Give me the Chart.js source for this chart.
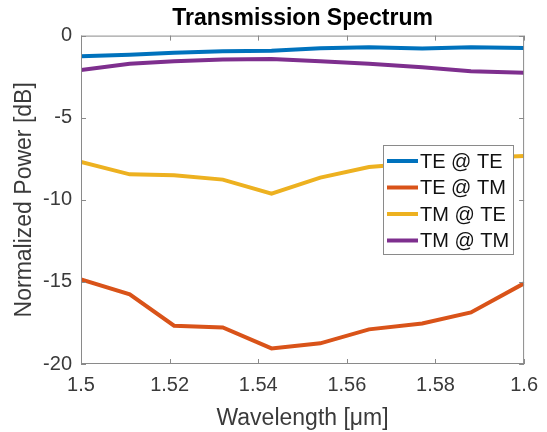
<!DOCTYPE html>
<html>
<head>
<meta charset="utf-8">
<script src="https://cdn.jsdelivr.net/npm/chart.js@4"></script>
<style>
  html, body { margin: 0; padding: 0; background: #fff; }
  #wrap { position: relative; width: 547px; height: 432px; }
</style>
</head>
<body>
<div id="wrap"><canvas id="chart"></canvas></div>
<script>
// wavelength samples (um)
const wavelengths = [1.5, 1.511, 1.521, 1.532, 1.543, 1.554, 1.565, 1.577, 1.588, 1.6];

// normalized power (dB)
const teAtTe = [-1.26, -1.17, -1.05, -0.95, -0.93, -0.77, -0.71, -0.79, -0.71, -0.75];
const teAtTm = [-14.85, -15.76, -17.67, -17.77, -19.05, -18.74, -17.89, -17.53, -16.86, -15.09];
const tmAtTe = [-7.70, -8.45, -8.51, -8.77, -9.62, -8.65, -8.0, -7.75, -7.45, -7.34];
const tmAtTm = [-2.09, -1.72, -1.56, -1.46, -1.42, -1.56, -1.72, -1.93, -2.17, -2.27];

const seriesLabels = ["TE @ TE", "TE @ TM", "TM @ TE", "TM @ TM"];
const seriesColors = ["#0072BD", "#D95319", "#EDB120", "#7E2F8E"];

const xTicks = [1.5, 1.52, 1.54, 1.56, 1.58, 1.6];
const yTicks = [-20, -15, -10, -5, 0];

const FONT = "'Liberation Sans', Arial, Helvetica, sans-serif";
const AXIS_COLOR = "#8a8a8a";
const TEXT_COLOR = "#3a3a3a";

const toPoints = (ys) => wavelengths.map((x, i) => ({ x: x, y: ys[i] }));

// box around the axes + inward tick marks, like MATLAB
const boxPlugin = {
  id: "box",
  afterDatasetsDraw(chart) {
    const { ctx, chartArea: a, scales } = chart;
    ctx.save();
    ctx.strokeStyle = AXIS_COLOR;
    ctx.lineWidth = 1;
    ctx.strokeRect(a.left + 0.5, a.top + 0.5, a.right - a.left - 1, a.bottom - a.top - 1);
    const len = 5;
    ctx.beginPath();
    xTicks.forEach((t) => {
      const px = Math.round(scales.x.getPixelForValue(t)) + 0.5;
      ctx.moveTo(px, a.bottom); ctx.lineTo(px, a.bottom - len);
      ctx.moveTo(px, a.top); ctx.lineTo(px, a.top + len);
    });
    yTicks.forEach((t) => {
      const py = Math.round(scales.y.getPixelForValue(t)) + 0.5;
      ctx.moveTo(a.left, py); ctx.lineTo(a.left + len, py);
      ctx.moveTo(a.right, py); ctx.lineTo(a.right - len, py);
    });
    ctx.stroke();
    ctx.restore();
  },
  afterDraw(chart) {
    // legend box placed inside the axes, like the figure
    const { ctx } = chart;
    const x0 = 383, y0 = 145, w = 130, h = 109, row = 26.5;
    ctx.save();
    ctx.fillStyle = "#fff";
    ctx.fillRect(x0, y0, w, h);
    ctx.strokeStyle = AXIS_COLOR;
    ctx.lineWidth = 1;
    ctx.strokeRect(x0 + 0.5, y0 + 0.5, w, h);
    ctx.font = "20px " + FONT;
    ctx.textBaseline = "middle";
    chart.data.datasets.forEach((ds, i) => {
      const cy = y0 + 16 + i * row;
      ctx.strokeStyle = ds.borderColor;
      ctx.lineWidth = 4;
      ctx.beginPath();
      ctx.moveTo(387, cy); ctx.lineTo(418, cy);
      ctx.stroke();
      ctx.fillStyle = "#111";
      ctx.fillText(ds.label, 420, cy + 1);
    });
    ctx.restore();
  }
};

new Chart(document.getElementById("chart"), {
  type: "line",
  data: {
    datasets: [teAtTe, teAtTm, tmAtTe, tmAtTm].map((ys, i) => ({
      label: seriesLabels[i],
      data: toPoints(ys),
      borderColor: seriesColors[i],
      backgroundColor: seriesColors[i],
      borderWidth: 4,
      pointRadius: 0,
      tension: 0,
      fill: false,
    })),
  },
  options: {
    responsive: true,
    maintainAspectRatio: false,
    animation: false,
    layout: { padding: { left: 0, right: 21, top: 0, bottom: 0 } },
    plugins: {
      legend: { display: false },
      tooltip: { enabled: false },
      title: {
        display: true,
        text: "Transmission Spectrum",
        fullSize: false,
        color: "#000",
        font: { family: FONT, size: 23, weight: "bold", lineHeight: 1.2 },
        padding: { top: 5, bottom: 3 },
      },
    },
    scales: {
      x: {
        type: "linear",
        min: 1.5,
        max: 1.6,
        afterBuildTicks: (scale) => { scale.ticks = xTicks.map((v) => ({ value: v })); },
        afterFit: (scale) => { scale.height = 68; },
        grid: { display: false, drawTicks: false },
        border: { display: false },
        ticks: {
          color: TEXT_COLOR,
          padding: 9,
          font: { family: FONT, size: 20 },
          callback: (v) => String(Number(v.toFixed(2))),
          maxRotation: 0,
        },
        title: {
          display: true,
          text: "Wavelength [μm]",
          color: TEXT_COLOR,
          font: { family: FONT, size: 23 },
          padding: { top: 0, bottom: 0 },
        },
      },
      y: {
        min: -20,
        max: 0,
        afterBuildTicks: (scale) => { scale.ticks = yTicks.map((v) => ({ value: v })); },
        afterFit: (scale) => { scale.width = 81; },
        grid: { display: false, drawTicks: false },
        border: { display: false },
        ticks: {
          color: TEXT_COLOR,
          padding: 9,
          font: { family: FONT, size: 20 },
        },
        title: {
          display: true,
          text: "Normalized Power [dB]",
          color: TEXT_COLOR,
          font: { family: FONT, size: 23 },
          padding: { top: 11, bottom: 0 },
        },
      },
    },
  },
  plugins: [boxPlugin],
});
</script>
</body>
</html>
